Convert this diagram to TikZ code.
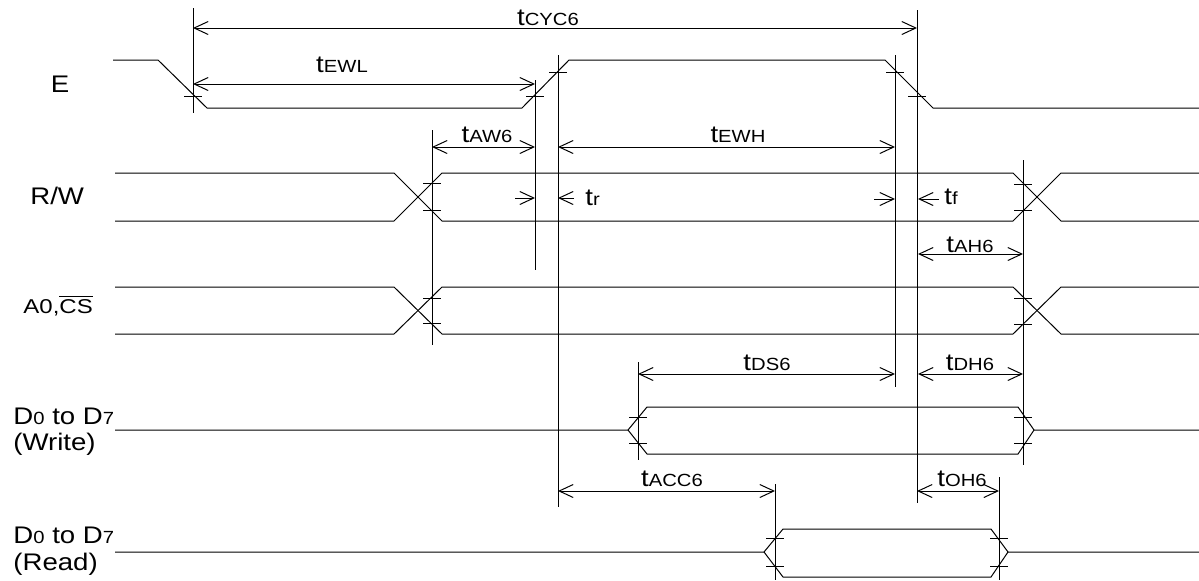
\documentclass[tikz,border=0pt]{standalone}
\usepackage{fontspec}
\setmainfont{Liberation Sans}
\newfontfamily\sigfont[FakeStretch=1.15]{Liberation Sans}
\newfontfamily\widefont[FakeStretch=1.2]{Liberation Sans}
\usetikzlibrary{arrows.meta,positioning}

\newcommand{\tsub}[1]{t{\fontsize{8.8}{10}\selectfont #1}}
\newcommand{\dsub}[1]{D{\fontsize{8.8}{10}\selectfont #1}}

\tikzset{
  sig/.style={line width=0.5pt},
  guide/.style={line width=0.5pt},
  dimarr/.style={line width=0.5pt,{Straight Barb[length=7pt,width=6.5pt]}-{Straight Barb[length=7pt,width=6.5pt]}},
  outarr/.style={line width=0.5pt,-{Straight Barb[length=7pt,width=6.5pt]}},
  lbl/.style={font=\sigfont\fontsize{12}{14}\selectfont,inner sep=0pt,anchor=base},
  siglbl/.style={lbl,anchor=base west}
}

\begin{document}
\begin{tikzpicture}[x=0.5pt,y=-0.5pt]

\useasboundingbox (0,0) rectangle (1199,580);

% signal names
\node[lbl] (nE) at (60,92) {E};
\node[siglbl] (nRW) at (30,204) {R/W};
\node[siglbl,font=\widefont\fontsize{10}{12}\selectfont] (nCS) at (23,313) {A0,$\overline{\mbox{CS}}$};
\node[siglbl] (nDW) at (13,424) {\dsub{0} to \dsub{7}};
\node[siglbl] (nW) at (13,450) {(Write)};
\node[siglbl] (nDR) at (13,543) {\dsub{0} to \dsub{7}};
\node[siglbl] (nR) at (13,570) {(Read)};

% waveforms
\draw[sig] (113,60) -- (158,60) -- (207,108) -- (522,108) -- (569,60) -- (885,60) -- (933,108) -- (1199,108);

\foreach \hi/\lo in {173/221, 287/334} {
  \draw[sig] (115,\hi) -- (394,\hi) -- (442,\lo) -- (1013,\lo) -- (1061,\hi) -- (1199,\hi);
  \draw[sig] (115,\lo) -- (394,\lo) -- (442,\hi) -- (1013,\hi) -- (1061,\lo) -- (1199,\lo);
}

\draw[sig] (115,430) -- (628,430) -- (647,407) -- (1018,407) -- (1034,430) -- (1199,430);
\draw[sig] (628,430) -- (647,454) -- (1018,454) -- (1034,430);

\draw[sig] (115,552) -- (764,552) -- (783,529) -- (991,529) -- (1008,552) -- (1199,552);
\draw[sig] (764,552) -- (783,577) -- (991,577) -- (1008,552);

% reference lines
\foreach \x/\top/\bot in {
  193/8/113,
  917/10/503,
  535/80/270,
  558/55/507,
  895/55/387,
  432/130/345,
  1023/160/465,
  638/362/460,
  775/484/580,
  999/477/580}
    \draw[guide] (\x,\top) -- (\x,\bot);

% level marks
\foreach \x/\y in {
  193/96, 535/96, 558/72, 895/72, 917/96,
  432/183, 432/210, 1023/184, 1023/210,
  432/298, 432/323, 1023/298, 1023/324,
  638/417, 638/443, 1023/417, 1023/443,
  775/538, 775/566, 999/538, 999/566}
    \draw[guide] (\x-9,\y) -- (\x+9,\y);

% timing parameters
\draw[dimarr] (193,28) -- (917,28);
\node[lbl] (cyc) at (548,25) {\tsub{CYC6}};

\draw[dimarr] (193,84) -- (535,84);
\node[lbl] (ewl) at (342,72) {\tsub{EWL}};

\draw[dimarr] (432,147) -- (535,147);
\node[lbl] (aw) at (487,142) {\tsub{AW6}};

\draw[dimarr] (558,147) -- (895,147);
\node[lbl] (ewh) at (738,142) {\tsub{EWH}};

\draw[outarr] (515,198) -- (535,198);
\draw[outarr] (574,198) -- (558,198);
\node[lbl,anchor=base west] (tr) at (585,205) {\tsub{r}};

\draw[outarr] (874,199) -- (895,199);
\draw[outarr] (939,199) -- (918,199);
\node[lbl,anchor=base west] (tf) at (944,204) {\tsub{f}};

\draw[dimarr] (918,254) -- (1023,254);
\node[lbl] (ah) at (970,252) {\tsub{AH6}};

\draw[dimarr] (638,374) -- (895,374);
\node[lbl] (ds) at (767,370) {\tsub{DS6}};

\draw[dimarr] (918,374) -- (1023,374);
\node[lbl] (dh) at (970,370) {\tsub{DH6}};

\draw[dimarr] (558,491) -- (775,491);
\node[lbl] (acc) at (672,486) {\tsub{ACC6}};

\draw[dimarr] (917,491) -- (999,491);
\node[lbl] (oh) at (962,486) {\tsub{OH6}};

\end{tikzpicture}
\end{document}
